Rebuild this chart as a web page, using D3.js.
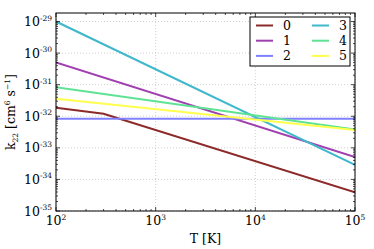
<!DOCTYPE html>
<html><head><meta charset="utf-8">
<script src="https://cdn.jsdelivr.net/npm/d3@7/dist/d3.min.js"></script>
<style>body{margin:0;background:#fff}svg{display:block}text{font-family:"DejaVu Serif",serif;fill:#000}</style>
</head><body>
<svg id="c" width="374" height="249"></svg>
<script>
const labels = ["0","1","2","3","4","5"];
const colors = ["#8c2a2a","#a040b0","#8080ff","#40b8cc","#5fe393","#ffff4d"];
const temps0 = [100, 300, 100000];
const k0 = [1.85e-32, 1.2e-32, 3.9e-35];
const temps = [100, 100000];
const k1 = [5.1e-31, 5.1e-34];
const k2 = [8.3e-33, 8.3e-33];
const k3 = [1.0e-29, 2.9e-34];
const k4 = [8.3e-32, 3.8e-33];
const k5 = [3.6e-32, 3.7e-33];
const xTicks = [1e2,1e3,1e4,1e5];
const xTickExp = ["2","3","4","5"];
const yTicks = [1e-35,1e-34,1e-33,1e-32,1e-31,1e-30,1e-29];
const yTickExp = ["-35","-34","-33","-32","-31","-30","-29"];

const series = [
  {t: temps0, k: k0}, {t: temps, k: k1}, {t: temps, k: k2},
  {t: temps, k: k3}, {t: temps, k: k4}, {t: temps, k: k5}
];
const L=56, R=355, T=13, B=211;
const FS = 12.5, SS = 7.5;
const svg = d3.select("#c");
const x = d3.scaleLog().domain([1e2,1e5]).range([L,R]);
const y = d3.scaleLog().domain([1e-35, Math.pow(10,-28.73)]).range([B,T]);

// grid
const g = svg.append("g");
xTicks.forEach(v=>g.append("line").attr("x1",x(v)).attr("x2",x(v)).attr("y1",T).attr("y2",B)
  .attr("stroke","#b0b0b0").attr("stroke-width",0.6).attr("stroke-dasharray","1,2"));
yTicks.forEach(v=>g.append("line").attr("x1",L).attr("x2",R).attr("y1",y(v)).attr("y2",y(v))
  .attr("stroke","#b0b0b0").attr("stroke-width",0.6).attr("stroke-dasharray","1,2"));

// lines
svg.append("clipPath").attr("id","cp").append("rect").attr("x",L).attr("y",T).attr("width",R-L).attr("height",B-T);
const line = d3.line().x(d=>x(d[0])).y(d=>y(d[1]));
series.forEach((s,i)=>{
  svg.append("path").attr("d", line(s.t.map((t,j)=>[t,s.k[j]])))
    .attr("fill","none").attr("stroke",colors[i]).attr("stroke-width",2).attr("clip-path","url(#cp)");
});

// ticks (inward, all sides)
const tk = svg.append("g").attr("stroke","#000").attr("stroke-width",0.7);
function minorVals(lo,hi){const a=[];for(let e=lo;e<hi;e++)for(let m=2;m<10;m++)a.push(m*Math.pow(10,e));return a;}
minorVals(2,5).forEach(v=>{const px=x(v);
  tk.append("line").attr("x1",px).attr("x2",px).attr("y1",B).attr("y2",B-2);
  tk.append("line").attr("x1",px).attr("x2",px).attr("y1",T).attr("y2",T+2);});
xTicks.forEach(v=>{const px=x(v);
  tk.append("line").attr("x1",px).attr("x2",px).attr("y1",B).attr("y2",B-4);
  tk.append("line").attr("x1",px).attr("x2",px).attr("y1",T).attr("y2",T+4);});
minorVals(-35,-28).filter(v=>y(v)>=T).forEach(v=>{const py=y(v);
  tk.append("line").attr("x1",L).attr("x2",L+2).attr("y1",py).attr("y2",py);
  tk.append("line").attr("x1",R).attr("x2",R-2).attr("y1",py).attr("y2",py);});
yTicks.forEach(v=>{const py=y(v);
  tk.append("line").attr("x1",L).attr("x2",L+4).attr("y1",py).attr("y2",py);
  tk.append("line").attr("x1",R).attr("x2",R-4).attr("y1",py).attr("y2",py);});

// frame
svg.append("rect").attr("x",L).attr("y",T).attr("width",R-L).attr("height",B-T)
  .attr("fill","none").attr("stroke","#000").attr("stroke-width",1);

// tick labels
xTicks.forEach((v,i)=>{
  const t = svg.append("text").attr("x",x(v)).attr("y",225).attr("text-anchor","middle").attr("font-size",FS);
  t.append("tspan").text("10");
  t.append("tspan").attr("dy",-5.5).attr("font-size",SS).text(xTickExp[i]);
});
yTicks.forEach((v,i)=>{
  const t = svg.append("text").attr("x",52).attr("y",y(v)+4.5).attr("text-anchor","end").attr("font-size",FS);
  t.append("tspan").text("10");
  t.append("tspan").attr("dy",-5.5).attr("font-size",SS).text(yTickExp[i]);
});

// axis labels
svg.append("text").attr("x",(L+R)/2).attr("y",243).attr("text-anchor","middle").attr("font-size",FS).text("T [K]");
const yl = svg.append("text").attr("transform","translate(15,112) rotate(-90)").attr("text-anchor","middle").attr("font-size",FS);
yl.append("tspan").text("k");
yl.append("tspan").attr("dy",3).attr("font-size",SS).text("22");
yl.append("tspan").attr("dy",-3).text(" [cm");
yl.append("tspan").attr("dy",-5).attr("font-size",SS).text("6");
yl.append("tspan").attr("dy",5).text(" s");
yl.append("tspan").attr("dy",-5).attr("font-size",SS).text("−1");
yl.append("tspan").attr("dy",5).text("]");

// legend
const lg = svg.append("g");
lg.append("rect").attr("x",250).attr("y",17).attr("width",100).attr("height",49)
  .attr("fill","#fff").attr("stroke","#000").attr("stroke-width",1);
labels.forEach((lab,i)=>{
  const col = Math.floor(i/3), row = i%3;
  const lx = col===0 ? 256 : 312, ly = 25.5 + row*15.2;
  lg.append("line").attr("x1",lx).attr("x2",lx+17).attr("y1",ly).attr("y2",ly).attr("stroke",colors[i]).attr("stroke-width",2);
  lg.append("text").attr("x",lx+27).attr("y",ly+4.5).attr("font-size",FS).text(lab);
});
</script>
</body></html>
